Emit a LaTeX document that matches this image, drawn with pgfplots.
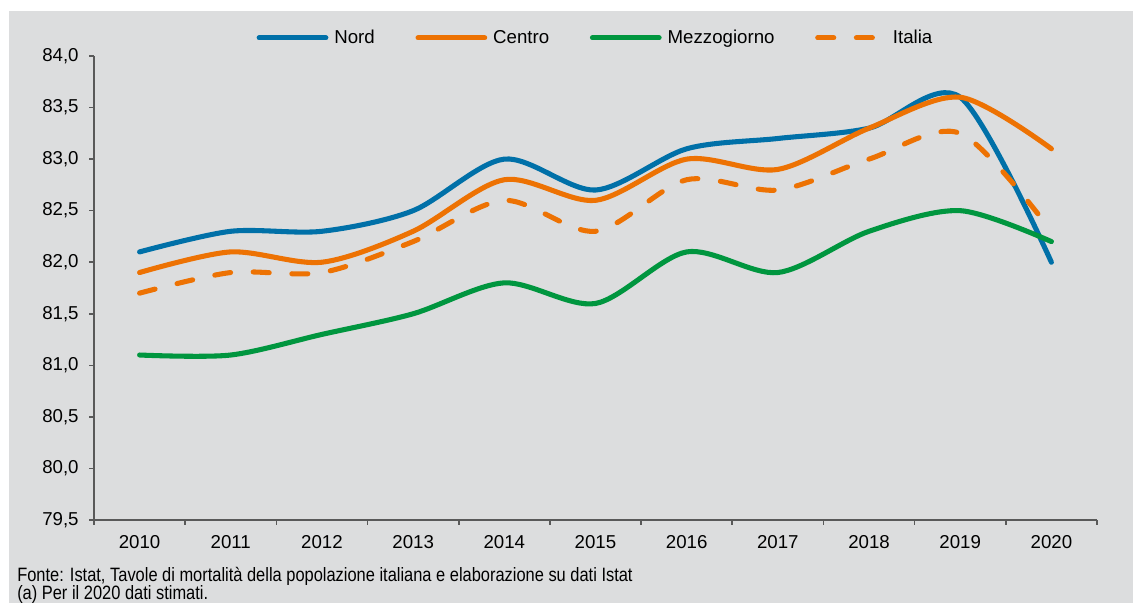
\documentclass[border=0pt]{standalone}
\usepackage{fontspec}
\setmainfont{Liberation Sans}
\newfontfamily\narrowfont[FakeStretch=0.85]{Liberation Sans}
\usepackage{pgfplots}
\pgfplotsset{compat=1.18}
\definecolor{bgc}{HTML}{DCDDDE}
\definecolor{axc}{HTML}{595959}
\definecolor{nordc}{HTML}{0070A8}
\definecolor{centroc}{HTML}{ED7203}
\definecolor{mezzc}{HTML}{00963F}
\begin{document}
\begin{tikzpicture}
\fill[white] (-70.5pt,-62.25pt) rectangle (779.25pt,390pt);
\fill[bgc] (-63.75pt,-62.25pt) rectangle (779.25pt,381.75pt);
\useasboundingbox (-70.5pt,-62.25pt) rectangle (779.25pt,390pt);
\begin{axis}[
  scale only axis, width=752.25pt, height=348pt,
  xmin=-0.5, xmax=10.5, ymin=79.5, ymax=84,
  axis x line*=bottom, axis y line*=left,
  axis line style={draw=axc, line width=1.5pt},
  tick align=outside,
  xtick={0,1,2,3,4,5,6,7,8,9,10},
  xticklabels={2010,2011,2012,2013,2014,2015,2016,2017,2018,2019,2020},
  major x tick style={draw=none},
  minor xtick={-0.5,0.5,1.5,2.5,3.5,4.5,5.5,6.5,7.5,8.5,9.5,10.5},
  minor x tick style={draw=axc, line width=1.2pt},
  minor tick length=3.5pt,
  ytick={79.5,80,80.5,81,81.5,82,82.5,83,83.5,84},
  y tick style={draw=axc, line width=1.2pt},
  major tick length=3.5pt,
  yticklabel style={xshift=-4.5pt, /pgf/number format/.cd, fixed, fixed zerofill, precision=1, use comma, assume math mode=true},
  xticklabel style={yshift=-4.5pt},
  ticklabel style={font=\fontsize{14}{16}\selectfont, text=black},
  legend columns=4,
  legend style={at={(axis description cs:0.502,1.039)}, anchor=center, draw=none, fill=none,
    font=\fontsize{14}{16}\selectfont,
    nodes={inner xsep=4.5pt},
    /tikz/every even column/.append style={column sep=26pt}},
  legend image code/.code={\draw[#1, line cap=round] (0pt,0pt) -- (50pt,0pt);},
  every axis plot/.append style={line width=3.8pt, smooth, tension=0.5, line cap=round, line join=round},
  clip=false
]
\addplot[nordc] coordinates {(0,82.1) (1,82.3) (2,82.3) (3,82.5) (4,83.0) (5,82.7) (6,83.1) (7,83.2) (8,83.3) (9,83.6) (10,82.0)};
\addlegendentry{Nord}
\addplot[centroc] coordinates {(0,81.9) (1,82.1) (2,82.0) (3,82.3) (4,82.8) (5,82.6) (6,83.0) (7,82.9) (8,83.3) (9,83.6) (10,83.1)};
\addlegendentry{Centro}
\addplot[mezzc] coordinates {(0,81.1) (1,81.1) (2,81.3) (3,81.5) (4,81.8) (5,81.6) (6,82.1) (7,81.9) (8,82.3) (9,82.5) (10,82.2)};
\addlegendentry{Mezzogiorno}
\addplot[centroc, dash pattern=on 12pt off 17pt] coordinates {(0,81.7) (1,81.9) (2,81.9) (3,82.2) (4,82.6) (5,82.3) (6,82.8) (7,82.7) (8,83.0) (9,83.25) (10,82.3)};
\addlegendentry{Italia}
\end{axis}
\node[anchor=base west, inner sep=0, font=\narrowfont\fontsize{14.5}{16}\selectfont] at (-57.75pt,-46.5pt) {Fonte: Istat, Tavole di mortalità della popolazione italiana e elaborazione su dati Istat};
\node[anchor=base west, inner sep=0, font=\narrowfont\fontsize{14.5}{16}\selectfont] at (-57.75pt,-60pt) {(a) Per il 2020 dati stimati.};
\end{tikzpicture}
\end{document}
